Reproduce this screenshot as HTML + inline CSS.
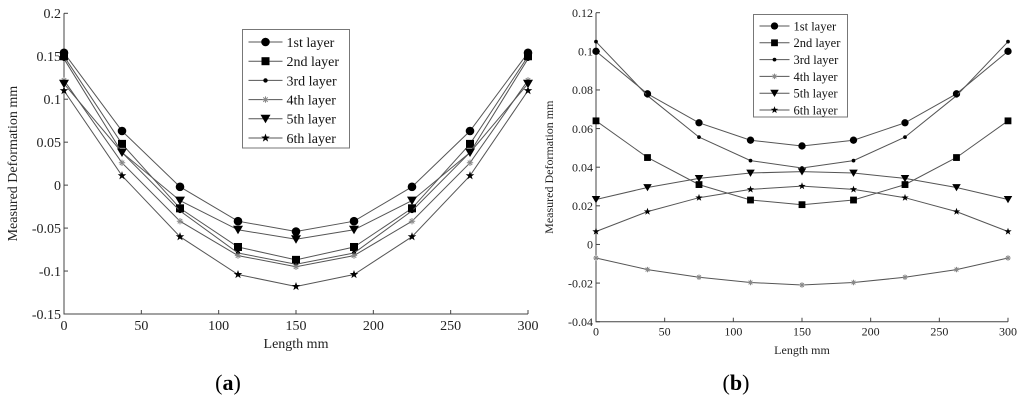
<!DOCTYPE html>
<html><head><meta charset="utf-8"><style>
html,body{margin:0;padding:0;background:#fff;width:1024px;height:406px;overflow:hidden}
svg{display:block;font-family:"Liberation Serif",serif}
</style></head><body>
<svg id="fig" width="1024" height="406" viewBox="0 0 1024 406" xmlns="http://www.w3.org/2000/svg"></svg>
<script>
const xs = [0,37.5,75,112.5,150,187.5,225,262.5,300];
const layerNames = ["1st layer","2nd layer","3rd layer","4th layer","5th layer","6th layer"];
const markers = ["circle","square","dot","asterisk","triangle","star"];
const aL1 = [0.154,0.063,-0.002,-0.042,-0.054,-0.042,-0.002,0.063,0.154];
const aL2 = [0.150,0.048,-0.027,-0.072,-0.087,-0.072,-0.027,0.048,0.150];
const aL3 = [0.147,0.038,-0.030,-0.079,-0.092,-0.079,-0.030,0.038,0.147];
const aL4 = [0.122,0.026,-0.042,-0.082,-0.095,-0.082,-0.042,0.026,0.122];
const aL5 = [0.118,0.038,-0.018,-0.052,-0.063,-0.052,-0.018,0.038,0.118];
const aL6 = [0.110,0.011,-0.060,-0.104,-0.118,-0.104,-0.060,0.011,0.110];
const bL1 = [0.100,0.078,0.063,0.054,0.051,0.054,0.063,0.078,0.100];
const bL2 = [0.064,0.045,0.031,0.023,0.0206,0.023,0.031,0.045,0.064];
const bL3 = [0.105,0.077,0.0556,0.0434,0.0396,0.0434,0.0556,0.077,0.105];
const bL4 = [-0.007,-0.013,-0.017,-0.0197,-0.021,-0.0197,-0.017,-0.013,-0.007];
const bL5 = [0.0233,0.0295,0.0342,0.037,0.0377,0.037,0.0342,0.0295,0.0233];
const bL6 = [0.0067,0.017,0.0242,0.0285,0.0302,0.0285,0.0242,0.017,0.0067];
const xTicks = [0,50,100,150,200,250,300];
const aYTicks = [-0.15,-0.1,-0.05,0,0.05,0.1,0.15,0.2];
const aYLabels = ["-0.15","-0.1","-0.05","0","0.05","0.1","0.15","0.2"];
const bYTicks = [-0.04,-0.02,0,0.02,0.04,0.06,0.08,0.1,0.12];
const bYLabels = ["-0.04","-0.02","0","0.02","0.04","0.06","0.08","0.1","0.12"];

const NS="http://www.w3.org/2000/svg";
const svg=document.getElementById('fig');
function mk(tag,attrs,parent){const e=document.createElementNS(NS,tag);for(const k in attrs)e.setAttribute(k,attrs[k]);(parent||svg).appendChild(e);return e;}
function txt(s,attrs,parent){const e=mk('text',attrs,parent);e.textContent=s;return e;}

function marker(g,type,x,y,big){
  let e;
  const s=big?1:0.85;
  if(type==="circle"){e=mk('circle',{cx:x,cy:y,r:4.3*s,fill:'#000'},g);}
  else if(type==="square"){const h=4*s;e=mk('rect',{x:x-h,y:y-h,width:2*h,height:2*h,fill:'#000'},g);}
  else if(type==="dot"){e=mk('circle',{cx:x,cy:y,r:2.2*s,fill:'#000'},g);}
  else if(type==="asterisk"){const h=3.2*s;e=mk('path',{d:`M${x-h},${y}H${x+h}M${x},${y-h}V${y+h}M${x-h*0.7},${y-h*0.7}L${x+h*0.7},${y+h*0.7}M${x-h*0.7},${y+h*0.7}L${x+h*0.7},${y-h*0.7}`,stroke:'#888','stroke-width':1,fill:'none'},g);}
  else if(type==="triangle"){const h=5*s;e=mk('path',{d:`M${x-h},${y-h*0.8}L${x+h},${y-h*0.8}L${x},${y+h*0.9}Z`,fill:'#000'},g);}
  else {const R=4.5*s,r=1.8*s;let d='';for(let i=0;i<10;i++){const a=-Math.PI/2+i*Math.PI/5;const rr=i%2?r:R;d+=(i?'L':'M')+(x+rr*Math.cos(a)).toFixed(2)+','+(y+rr*Math.sin(a)).toFixed(2);}e=mk('path',{d:d+'Z',fill:'#000'},g);}
  return e;
}

function chart(cfg){
  const g=mk('g',{});
  
  
  const sx=v=>cfg.x0+(v-0)/300*(cfg.x1-cfg.x0);
  const sy=v=>cfg.yB+(v-cfg.ymin)/(cfg.ymax-cfg.ymin)*(cfg.yT-cfg.yB);
  const ax=mk('path',{d:`M${cfg.x0},${cfg.yT}V${cfg.yB}H${cfg.x1}`,stroke:'#444','stroke-width':1,fill:'none'},g);
  
  
  xTicks.forEach(t=>{
    const x=sx(t);
    mk('line',{x1:x,x2:x,y1:cfg.yB,y2:cfg.yB-4,stroke:'#444','stroke-width':1},g);
    const l=txt(String(t),{x:x,y:cfg.yB+cfg.fs+2,'font-size':cfg.fs,'text-anchor':'middle',fill:'#222'},g);
    
    
  });
  cfg.yTicks.forEach((t,i)=>{
    const y=sy(t);
    mk('line',{x1:cfg.x0,x2:cfg.x0+4,y1:y,y2:y,stroke:'#444','stroke-width':1},g);
    const l=txt(cfg.yLabels[i],{x:cfg.x0-3,y:y+cfg.fs*0.35,'font-size':cfg.fs,'text-anchor':'end',fill:'#222'},g);
    
    
  });
  const xl=txt('Length mm',{x:(cfg.x0+cfg.x1)/2,y:cfg.xlY,'font-size':cfg.fs,'text-anchor':'middle',fill:'#222'},g);
  
  
  const yl=txt('Measured Deformation  mm',{x:0,y:0,'font-size':cfg.yfs,'text-anchor':'middle',fill:'#222',transform:`translate(${cfg.ylX},${(cfg.yT+cfg.yB)/2}) rotate(-90)`},g);
  
  
  cfg.series.forEach((ser,si)=>{
    const sg=mk('g',{},g);
    
    
    const d=ser.map((v,i)=>(i?'L':'M')+sx(xs[i]).toFixed(1)+','+sy(v).toFixed(1)).join('');
    mk('path',{d:d,stroke:'#555','stroke-width':1,fill:'none'},sg);
    ser.forEach((v,i)=>marker(sg,markers[si],sx(xs[i]),sy(v),cfg.big));
  });
  const lg=mk('g',{},g);
  
  
  const L=cfg.leg;
  mk('rect',{x:L.x,y:L.y,width:L.w,height:L.h,fill:'#fff',stroke:'#777','stroke-width':1},lg);
  layerNames.forEach((n,i)=>{
    const ent=mk('g',{},lg);
    
    
    const y=L.y+L.first+i*L.step;
    mk('line',{x1:L.x+6,x2:L.x+6+L.lw,y1:y,y2:y,stroke:'#555','stroke-width':1},ent);
    marker(ent,markers[i],L.x+6+L.lw/2,y,cfg.big);
    txt(n,{x:L.x+10+L.lw,y:y+cfg.lfs*0.35,'font-size':cfg.lfs,fill:'#111'},ent);
  });
}

chart({name:'chart-a',x0:64,x1:528,yT:13.3,yB:314,ymin:-0.15,ymax:0.2,yTicks:aYTicks,yLabels:aYLabels,
  fs:14,yfs:14,lfs:14,big:true,xlY:348,ylX:17,series:[aL1,aL2,aL3,aL4,aL5,aL6],
  leg:{x:242.5,y:29.5,w:107,h:118.5,first:12.5,step:19.2,lw:34}});
chart({name:'chart-b',x0:596,x1:1008,yT:12.7,yB:321.7,ymin:-0.04,ymax:0.12,yTicks:bYTicks,yLabels:bYLabels,
  fs:12,yfs:12,lfs:12.5,big:false,xlY:354,ylX:553,series:[bL1,bL2,bL3,bL4,bL5,bL6],
  leg:{x:753.5,y:14.5,w:94,h:102.5,first:11.5,step:16.8,lw:30}});

const ca=txt('',{x:228,y:390,'font-size':22,'text-anchor':'middle',fill:'#000'});
ca.innerHTML='(<tspan font-weight="bold">a</tspan>)';


const cb=txt('',{x:736,y:390,'font-size':22,'text-anchor':'middle',fill:'#000'});
cb.innerHTML='(<tspan font-weight="bold">b</tspan>)';


</script>
</body></html>
